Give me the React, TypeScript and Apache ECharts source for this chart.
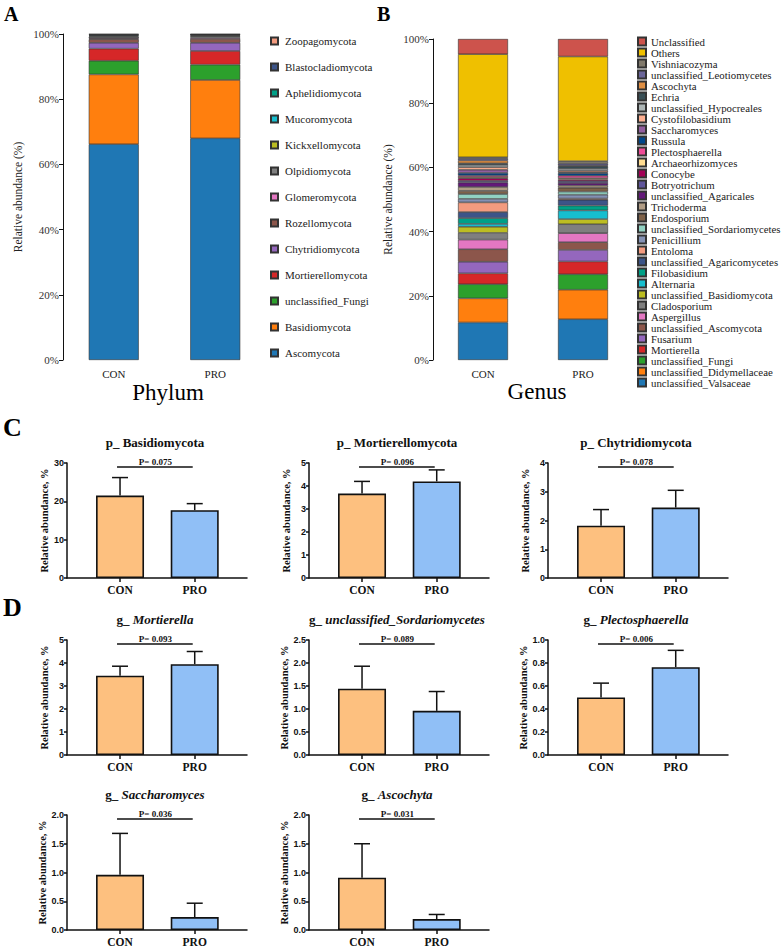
import React, { useEffect, useRef } from 'react';
import * as echarts from 'echarts';

const groups = ['CON', 'PRO'];

// ---- Panel A: phylum (bottom to top) ----
const phylumNames = ['Ascomycota', 'Basidiomycota', 'unclassified_Fungi', 'Mortierellomycota', 'Chytridiomycota', 'Rozellomycota', 'Glomeromycota', 'Olpidiomycota', 'Kickxellomycota', 'Mucoromycota', 'Aphelidiomycota', 'Blastocladiomycota', 'Zoopagomycota'];
const phylumColors = ['#1F77B4', '#FF7F0E', '#2CA02C', '#D62728', '#9467BD', '#8C564B', '#E377C2', '#7F7F7F', '#BCBD22', '#17BECF', '#00A087', '#3C5488', '#F39B7F'];
const phylumCON = [66.2, 21.4, 4.2, 3.7, 1.8, 1.1, 0.3, 0.5, 0.2, 0.2, 0.15, 0.15, 0.1];
const phylumPRO = [68.0, 17.9, 4.7, 4.2, 2.5, 1.2, 0.4, 0.4, 0.2, 0.2, 0.1, 0.1, 0.1];

// ---- Panel B: genus (bottom to top) ----
const genusNames = ['unclassified_Valsaceae', 'unclassified_Didymellaceae', 'unclassified_Fungi', 'Mortierella', 'Fusarium', 'unclassified_Ascomycota', 'Aspergillus', 'Cladosporium', 'unclassified_Basidiomycota', 'Alternaria', 'Filobasidium', 'unclassified_Agaricomycetes', 'Entoloma', 'Penicillium', 'unclassified_Sordariomycetes', 'Endosporium', 'Trichoderma', 'unclassified_Agaricales', 'Botryotrichum', 'Conocybe', 'Archaeorhizomyces', 'Plectosphaerella', 'Russula', 'Saccharomyces', 'Cystofilobasidium', 'unclassified_Hypocreales', 'Echria', 'Ascochyta', 'unclassified_Leotiomycetes', 'Vishniacozyma', 'Others', 'Unclassified'];
const genusColors = ['#1F77B4', '#FF7F0E', '#2CA02C', '#D62728', '#9467BD', '#8C564B', '#E377C2', '#7F7F7F', '#BCBD22', '#17BECF', '#00A087', '#3C5488', '#F39B7F', '#8491B4', '#91D1C2', '#7E6148', '#B09C85', '#631879', '#5F559B', '#A20056', '#FFDC91', '#EE4C97', '#00468B', '#925E9F', '#FDAF91', '#ADB6B6', '#374E55', '#DF8F44', '#6A6599', '#80796B', '#EFC000', '#CD534C'];
const genusCON = [11.7, 7.5, 4.4, 3.4, 3.6, 3.9, 3.0, 2.1, 1.9, 0.9, 1.8, 1.9, 3.0, 1.1, 1.5, 1.0, 1.2, 1.4, 0.5, 0.8, 0.4, 0.5, 0.8, 0.97, 0.8, 0.7, 0.5, 0.9, 0.5, 0.5, 32.1, 4.73];
const genusPRO = [12.7, 9.2, 4.8, 4.0, 3.6, 2.4, 2.8, 2.8, 1.6, 2.7, 1.5, 1.8, 0.4, 1.2, 0.95, 1.2, 0.7, 0.8, 0.6, 0.5, 0.4, 0.77, 0.8, 0.23, 0.5, 0.6, 0.8, 0.19, 0.6, 0.8, 32.6, 5.46];

// ---- Panels C & D: mean bars with SD ----
const panelPrefix = ['p_', 'p_', 'p_', 'g_', 'g_', 'g_', 'g_', 'g_'];
const panelTaxon = ['Basidiomycota', 'Mortierellomycota', 'Chytridiomycota', 'Mortierella', 'unclassified_Sordariomycetes', 'Plectosphaerella', 'Saccharomyces', 'Ascochyta'];
const meanCON = [21.5, 3.67, 1.82, 3.45, 1.44, 0.5, 0.96, 0.91];
const meanPRO = [17.7, 4.2, 2.45, 3.95, 0.96, 0.764, 0.224, 0.19];
const sdCON = [4.7, 0.53, 0.56, 0.41, 0.49, 0.125, 0.72, 0.59];
const sdPRO = [1.7, 0.5, 0.6, 0.55, 0.42, 0.146, 0.242, 0.08];
const pValues = ['0.075', '0.096', '0.078', '0.093', '0.089', '0.006', '0.036', '0.031'];
const yMax = [30, 5, 4, 5, 2.5, 1.0, 2.0, 2.0];
const yStep = [10, 1, 1, 1, 0.5, 0.2, 0.5, 0.5];
const yDecimals = [0, 0, 0, 0, 1, 1, 1, 1];

// layout (pixels)
const panelLeft = [67, 309, 548, 67, 309, 548, 67, 309];
const panelTop = [463, 463, 463, 640, 640, 640, 815, 815];
const panelHeight = 115;
const panelWidth = 180;
const X_MIN = 0.29;
const X_MAX = 2.7;

const SERIF = '"Liberation Serif", "Times New Roman", serif';
const SANS = '"Liberation Sans", Arial, sans-serif';
const conColor = '#FDC07F';
const proColor = '#90BFF6';

function buildOption() {
  const grid: any[] = [];
  const xAxis: any[] = [];
  const yAxis: any[] = [];
  const series: any[] = [];
  const title: any[] = [];

  // Stacked panel A
  grid.push({ left: 63, top: 34, width: 203, height: 326 });
  // Stacked panel B
  grid.push({ left: 433, top: 39, width: 200, height: 321 });
  for (let g = 0; g < 2; g++) {
    xAxis.push({
      type: 'category', gridIndex: g, data: groups,
      axisLine: { show: false }, axisTick: { show: false },
      axisLabel: { fontFamily: SERIF, fontSize: 11, color: '#222', margin: 8 },
    });
    yAxis.push({
      type: 'value', gridIndex: g, min: 0, max: 100, interval: 20,
      name: 'Relative abundance (%)', nameLocation: 'middle', nameGap: 39,
      nameTextStyle: { fontFamily: SERIF, fontSize: 11.5, color: '#222' },
      axisLine: { show: true, lineStyle: { color: '#111', width: 1 } },
      axisTick: { show: true, length: 4, lineStyle: { color: '#111' } },
      splitLine: { show: false },
      axisLabel: { fontFamily: SERIF, fontSize: 11, color: '#333', margin: 4, formatter: (v: number) => v + '%' },
    });
  }
  phylumNames.forEach((n, i) => {
    series.push({
      type: 'bar', name: n, stack: 'phylum', xAxisIndex: 0, yAxisIndex: 0, barWidth: 50,
      data: [phylumCON[i], phylumPRO[i]],
      itemStyle: { color: phylumColors[i], borderColor: '#333', borderWidth: 0.6 },
    });
  });
  genusNames.forEach((n, i) => {
    series.push({
      type: 'bar', name: n, stack: 'genus', xAxisIndex: 1, yAxisIndex: 1, barWidth: 50,
      data: [genusCON[i], genusPRO[i]],
      itemStyle: { color: genusColors[i], borderColor: '#333', borderWidth: 0.6 },
    });
  });

  // Mean +/- SD panels
  panelTaxon.forEach((taxon, k) => {
    const gi = k + 2;
    grid.push({ left: panelLeft[k], top: panelTop[k], width: panelWidth, height: panelHeight });
    xAxis.push({
      type: 'value', gridIndex: gi, min: X_MIN, max: X_MAX,
      axisLine: { show: true, onZero: false, lineStyle: { color: '#111', width: 1.5 } },
      axisTick: { show: true, length: 4, customValues: [1, 2], lineStyle: { color: '#111', width: 1.5 } },
      splitLine: { show: false },
      axisLabel: {
        customValues: [1, 2], fontFamily: SERIF, fontWeight: 'bold', fontSize: 11.5, color: '#111', margin: 6,
        formatter: (v: number) => groups[Math.round(v) - 1] || '',
      },
    });
    yAxis.push({
      type: 'value', gridIndex: gi, min: 0, max: yMax[k], interval: yStep[k],
      name: 'Relative abundance, %', nameLocation: 'middle', nameGap: 17,
      nameTextStyle: { fontFamily: SERIF, fontWeight: 'bold', fontSize: 10.5, color: '#111' },
      axisLine: { show: true, onZero: false, lineStyle: { color: '#111', width: 1.5 } },
      axisTick: { show: true, length: 3, lineStyle: { color: '#111', width: 1.5 } },
      splitLine: { show: false },
      axisLabel: {
        fontFamily: SANS, fontWeight: 'bold', fontSize: 9, color: '#111', margin: 3,
        formatter: (v: number) => v.toFixed(yDecimals[k]),
      },
    });
    series.push({
      type: 'bar', name: 'bars-' + k, xAxisIndex: gi, yAxisIndex: gi, barWidth: 48,
      data: [
        { value: [1, meanCON[k]], itemStyle: { color: conColor } },
        { value: [2, meanPRO[k]], itemStyle: { color: proColor } },
      ],
      itemStyle: { borderColor: '#111', borderWidth: 1.6 },
    });
    series.push({
      type: 'custom', name: 'err-' + k, xAxisIndex: gi, yAxisIndex: gi,
      encode: { x: 0, y: [1, 2] },
      data: [[1, meanCON[k], meanCON[k] + sdCON[k]], [2, meanPRO[k], meanPRO[k] + sdPRO[k]]],
      renderItem: (params: any, api: any) => {
        const x = api.value(0);
        const p0 = api.coord([x, api.value(1)]);
        const p1 = api.coord([x, api.value(2)]);
        const st = { stroke: '#111', lineWidth: 1.5 };
        return {
          type: 'group', children: [
            { type: 'line', shape: { x1: p0[0], y1: p0[1], x2: p1[0], y2: p1[1] }, style: st },
            { type: 'line', shape: { x1: p1[0] - 8, y1: p1[1], x2: p1[0] + 8, y2: p1[1] }, style: st },
          ],
        };
      },
    });
    series.push({
      type: 'custom', name: 'p-' + k, xAxisIndex: gi, yAxisIndex: gi,
      encode: { x: [0, 1], y: 2 },
      data: [[1, 2, yMax[k] * 0.965]],
      renderItem: (params: any, api: any) => {
        const a = api.coord([api.value(0), api.value(2)]);
        const b = api.coord([api.value(1), api.value(2)]);
        return {
          type: 'group', children: [
            { type: 'line', shape: { x1: a[0] - 3, y1: a[1], x2: b[0] - 2, y2: b[1] }, style: { stroke: '#111', lineWidth: 1.5 } },
            {
              type: 'text', x: (a[0] + b[0]) / 2 - 2, y: a[1] - 1,
              style: { text: 'P= ' + pValues[k], fill: '#111', fontFamily: SERIF, fontWeight: 'bold', fontSize: 9, align: 'center', verticalAlign: 'bottom' },
            },
          ],
        };
      },
    });
    const italic = panelPrefix[k] === 'g_';
    title.push({
      text: '{p|' + panelPrefix[k] + ' }{t|' + taxon + '}',
      left: panelLeft[k] + panelWidth / 2 - 2, top: panelTop[k] - 27, textAlign: 'center',
      padding: 0,
      textStyle: {
        rich: {
          p: { fontFamily: SERIF, fontWeight: 'bold', fontSize: 13, color: '#111' },
          t: { fontFamily: SERIF, fontWeight: 'bold', fontSize: 13, color: '#111', fontStyle: italic ? 'italic' : 'normal' },
        },
      },
    });
  });

  const legend = [
    {
      data: [...phylumNames].reverse(), orient: 'vertical', left: 270, top: 34,
      itemWidth: 7, itemHeight: 7, itemGap: 12, padding: 0, icon: 'rect', selectedMode: false,
      textStyle: { fontFamily: SERIF, fontSize: 11, color: '#222', lineHeight: 14, padding: [0, 0, 0, 2] },
    },
    {
      data: [...genusNames].reverse(), orient: 'vertical', left: 637, top: 36,
      itemWidth: 8, itemHeight: 8, itemGap: 0, padding: 0, icon: 'rect', selectedMode: false,
      textStyle: { fontFamily: SERIF, fontSize: 10.8, color: '#222', lineHeight: 10.2 },
    },
  ];

  const graphic = [
    { type: 'text', left: 4, top: 4, style: { text: 'A', fontFamily: SERIF, fontWeight: 'bold', fontSize: 20, fill: '#000' } },
    { type: 'text', left: 377, top: 4, style: { text: 'B', fontFamily: SERIF, fontWeight: 'bold', fontSize: 20, fill: '#000' } },
    { type: 'text', left: 3, top: 414, style: { text: 'C', fontFamily: SERIF, fontWeight: 'bold', fontSize: 26, fill: '#000' } },
    { type: 'text', left: 3, top: 594, style: { text: 'D', fontFamily: SERIF, fontWeight: 'bold', fontSize: 26, fill: '#000' } },
    { type: 'text', x: 168, y: 392, style: { text: 'Phylum', fontFamily: SERIF, fontSize: 23, fill: '#000', align: 'center', verticalAlign: 'middle' } },
    { type: 'text', x: 537, y: 391, style: { text: 'Genus', fontFamily: SERIF, fontSize: 23, fill: '#000', align: 'center', verticalAlign: 'middle' } },
  ];

  return {
    animation: false,
    backgroundColor: '#fff',
    grid, xAxis, yAxis, series, title, legend, graphic,
  };
}

export default function App() {
  const ref = useRef<HTMLDivElement>(null);
  useEffect(() => {
    if (!ref.current) return;
    const chart = echarts.init(ref.current, undefined, { renderer: 'svg' });
    chart.setOption(buildOption() as any);
    return () => chart.dispose();
  }, []);
  return (
    <div
      ref={ref}
      style={{ position: 'absolute', left: 0, top: 0, width: 783, height: 950, background: '#fff' }}
    />
  );
}
